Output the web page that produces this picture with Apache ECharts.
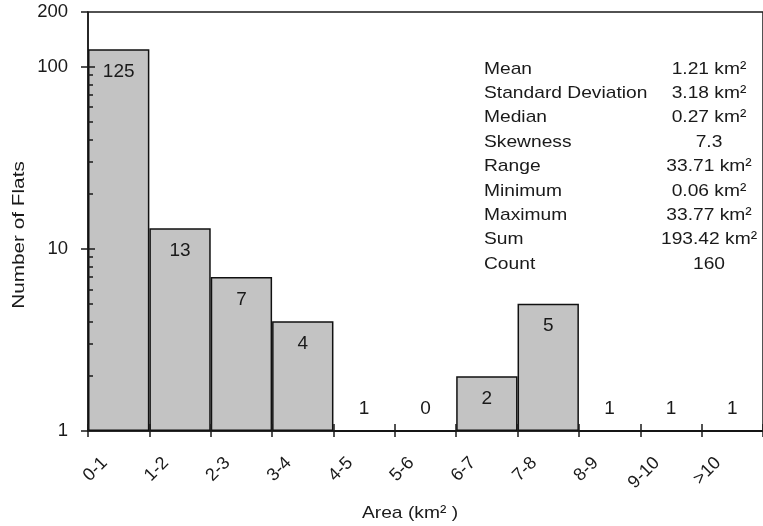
<!DOCTYPE html>
<html>
<head>
<meta charset="utf-8">
<script src="https://cdn.jsdelivr.net/npm/echarts@6/dist/echarts.min.js"></script>
<style>html,body{margin:0;padding:0;background:#fff}#c{width:763px;height:526px}</style>
</head>
<body>
<div id="c"></div>
<script>
const categories = ['0-1', '1-2', '2-3', '3-4', '4-5', '5-6', '6-7', '7-8', '8-9', '9-10', '>10'];
const counts = [125, 13, 7, 4, 1, 0, 2, 5, 1, 1, 1];
const yTickValues = [1, 10, 100, 200];
const yMinorTicks = [2, 3, 4, 5, 6, 7, 8, 9, 20, 30, 40, 50, 60, 70, 80, 90];
const yInnerMajor = [10, 100];
const statNames = ['Mean', 'Standard Deviation', 'Median', 'Skewness', 'Range', 'Minimum', 'Maximum', 'Sum', 'Count'];
const statValues = ['1.21 km²', '3.18 km²', '0.27 km²', '7.3', '33.71 km²', '0.06 km²', '33.77 km²', '193.42 km²', '160'];

const FONT = '"Liberation Sans", Arial, sans-serif';
const INK = '#1a1a1a';

const chart = echarts.init(document.getElementById('c'), null, { renderer: 'canvas' });

// a count of 0 cannot sit on a log axis: it is drawn at the axis floor (1), which is an empty bar
const barData = counts.map((c) => ({
  value: c > 0 ? c : 1,
  label: c <= 1 ? { position: 'top', distance: 12 } : { position: 'insideTop', distance: 13 }
}));

const gridRect = { left: 88, top: 12, right: -5, bottom: 95 };
const logAxisBase = { type: 'log', logBase: 10, min: 1, max: 200, splitLine: { show: false } };
const tickStyle = { color: INK, width: 1.5 };

const graphics = [];
graphics.push({
  type: 'text', x: 19, y: 235, rotation: Math.PI / 2, scaleX: 1.22,
  style: { text: 'Number of Flats', font: '17px ' + FONT, fill: INK, align: 'center', verticalAlign: 'middle' }
});
graphics.push({
  type: 'text', x: 410, y: 513, scaleX: 1.13,
  style: { text: 'Area (km² )', font: '17px ' + FONT, fill: INK, align: 'center', verticalAlign: 'middle' }
});
statNames.forEach((n, i) => {
  graphics.push({
    type: 'text', x: 484, y: 69 + i * 24.4, scaleX: 1.13,
    style: { text: n, font: '17px ' + FONT, fill: INK, align: 'left', verticalAlign: 'middle' }
  });
  graphics.push({
    type: 'text', x: 709, y: 69 + i * 24.4, scaleX: 1.13,
    style: { text: statValues[i], font: '17px ' + FONT, fill: INK, align: 'center', verticalAlign: 'middle' }
  });
});

chart.setOption({
  animation: false,
  backgroundColor: '#fff',
  grid: [
    Object.assign({ show: true, borderColor: INK, borderWidth: 1.5, backgroundColor: 'transparent' }, gridRect),
    Object.assign({}, gridRect),
    Object.assign({}, gridRect)
  ],
  xAxis: [
    {
      type: 'category', data: categories, gridIndex: 0, position: 'bottom',
      axisLine: { show: true, lineStyle: { color: INK, width: 1.5 } },
      axisTick: { show: true, inside: false, length: 6, lineStyle: tickStyle },
      axisLabel: { rotate: 45, fontSize: 18, fontFamily: FONT, color: INK, margin: 15, padding: [0, 20, 0, 0], interval: 0 },
      splitLine: { show: false }
    },
    {
      type: 'category', data: categories, gridIndex: 1, position: 'bottom', z: 5,
      axisLine: { show: false },
      axisTick: { show: true, inside: true, length: 7, lineStyle: tickStyle },
      axisLabel: { show: false },
      splitLine: { show: false }
    },
    { type: 'category', data: categories, gridIndex: 2, show: false }
  ],
  yAxis: [
    Object.assign({}, logAxisBase, {
      gridIndex: 0,
      axisLine: { show: true, lineStyle: { color: INK, width: 1.5 } },
      axisTick: { show: true, inside: false, length: 7, customValues: yTickValues, lineStyle: tickStyle },
      axisLabel: { fontSize: 18.5, fontFamily: FONT, color: INK, margin: 20, customValues: yTickValues }
    }),
    Object.assign({}, logAxisBase, {
      gridIndex: 1, position: 'left', z: 5,
      axisLine: { show: false },
      axisTick: { show: true, inside: true, length: 5, customValues: yMinorTicks, lineStyle: tickStyle },
      axisLabel: { show: false }
    }),
    Object.assign({}, logAxisBase, {
      gridIndex: 2, position: 'left', z: 5,
      axisLine: { show: false },
      axisTick: { show: true, inside: true, length: 7, customValues: yInnerMajor, lineStyle: tickStyle },
      axisLabel: { show: false }
    })
  ],
  series: [{
    type: 'bar', xAxisIndex: 0, yAxisIndex: 0,
    data: barData,
    barCategoryGap: 0,
    itemStyle: { color: '#c3c3c3', borderColor: '#111', borderWidth: 1.5 },
    label: {
      show: true, fontSize: 19, fontFamily: FONT, color: INK,
      formatter: p => String(counts[p.dataIndex])
    }
  }],
  graphic: graphics
});
</script>
</body>
</html>
